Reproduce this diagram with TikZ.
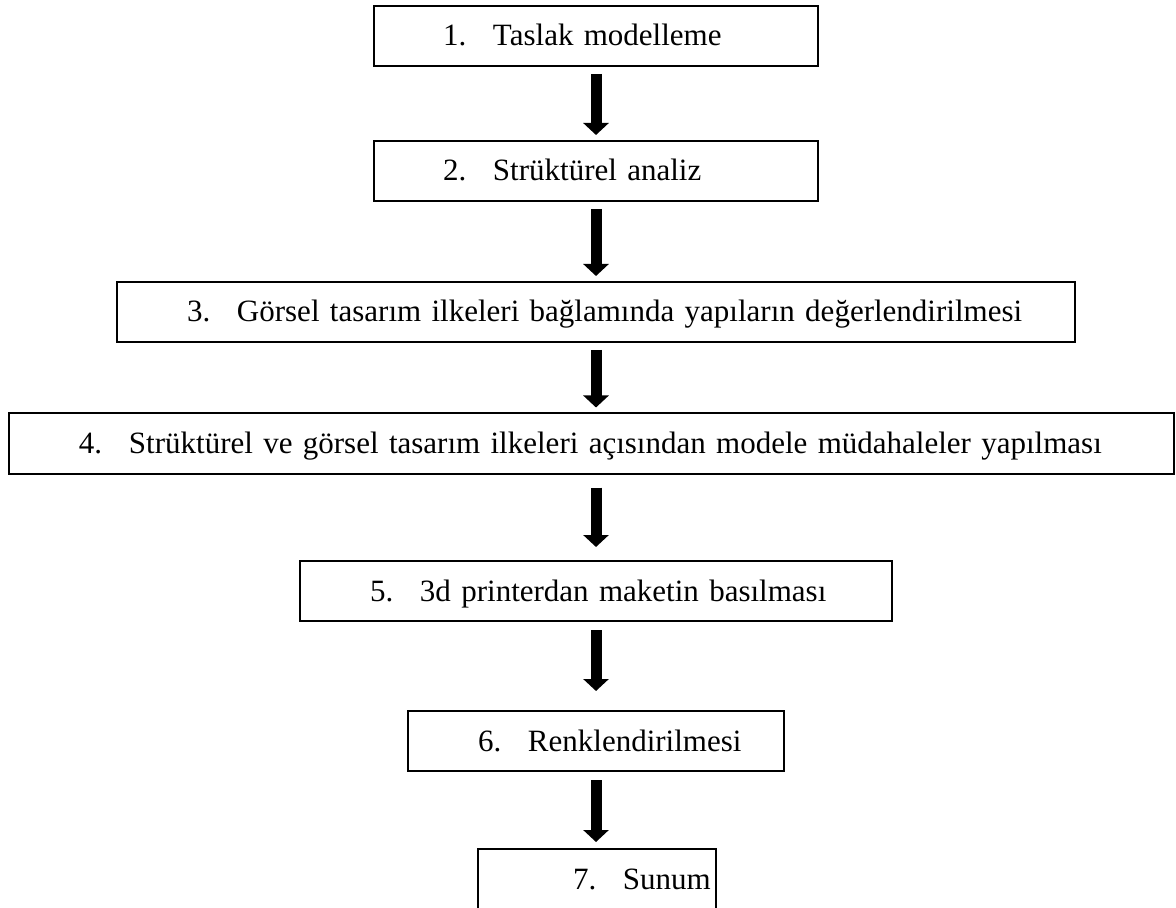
\documentclass[tikz,border=0pt]{standalone}
\usepackage{fontspec}
\setmainfont{Liberation Serif}
\usepackage{tikz}
\usetikzlibrary{arrows.meta, positioning}
\tikzstyle{flowbox} = [draw=black, line width=1pt, inner xsep=0pt, inner ysep=9pt, text height=11pt, text depth=1pt, align=left, font=\fontsize{15.5pt}{18pt}\selectfont]
\tikzstyle{arrow} = [line width=5.5pt, -{Triangle[width=12.5pt, length=6pt]}, shorten <=3.5pt, shorten >=2.5pt]
\newcommand{\numitem}[3]{\mbox{\hspace*{#1}\makebox[25pt][l]{#2.}#3}}

\begin{document}
\begin{tikzpicture}[x=0.5pt, y=-0.5pt]
  \useasboundingbox (0,0) rectangle (1176,908);
  \coordinate (col) at (596,0);

  \node (b1) [flowbox, text width=222pt] at (596,36) {\numitem{34.5pt}{1}{Taslak modelleme}};
  \node (b2) [flowbox, text width=222pt] at (596,171) {\numitem{34.5pt}{2}{Strüktürel analiz}};
  \node (b3) [flowbox, text width=479pt] at (596,312) {\numitem{35pt}{3}{Görsel tasarım ilkeleri bağlamında yapıların değerlendirilmesi}};
  \node (b4) [flowbox, text width=582.5pt] at (591.5,443.5) {\numitem{35pt}{4}{Strüktürel ve görsel tasarım ilkeleri açısından modele müdahaleler yapılması}};
  \node (b5) [flowbox, text width=296pt] at (596,591) {\numitem{35pt}{5}{3d printerdan maketin basılması}};
  \node (b6) [flowbox, text width=188pt] at (596,741) {\numitem{35pt}{6}{Renklendirilmesi}};
  \node (b7) [flowbox, text width=119pt, text depth=60pt, anchor=north] at (597,848) {\numitem{47.5pt}{7}{Sunum}};

  \draw[arrow] (b1.south -| col) -- (b2.north -| col);
  \draw[arrow] (b2.south -| col) -- (b3.north -| col);
  \draw[arrow] (b3.south -| col) -- (b4.north -| col);
  \draw[arrow, shorten <=6.5pt, shorten >=6.5pt] (b4.south -| col) -- (b5.north -| col);
  \draw[arrow, shorten <=4pt, shorten >=9.5pt] (b5.south -| col) -- (b6.north -| col);
  \draw[arrow, shorten <=4pt, shorten >=3pt] (b6.south -| col) -- (b7.north -| col);
\end{tikzpicture}
\end{document}
